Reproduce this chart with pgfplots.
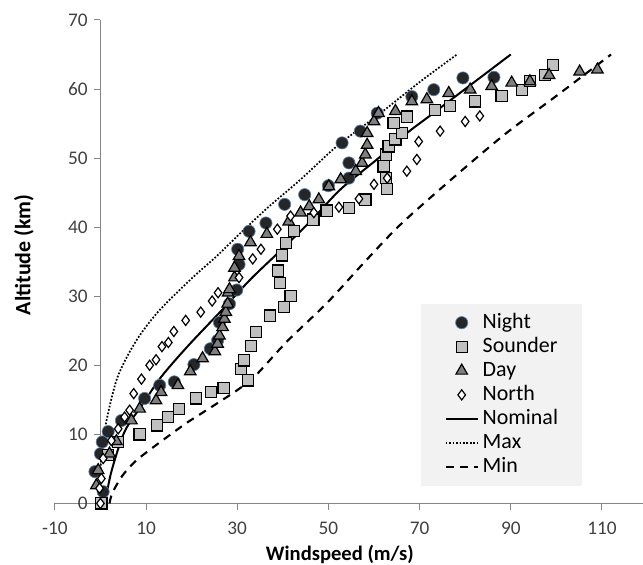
\documentclass[border=0pt]{standalone}
\usepackage{fontspec}
\setmainfont{Carlito}
\usepackage{pgfplots}
\pgfplotsset{compat=1.18}
\definecolor{axisgray}{HTML}{868686}
\definecolor{nightfill}{HTML}{262626}
\definecolor{nightedge}{HTML}{5B82B0}
\definecolor{soundfill}{HTML}{C0C0C0}
\definecolor{dayfill}{HTML}{7F7F7F}
\definecolor{legendbg}{HTML}{F2F2F2}

\begin{document}
\begin{tikzpicture}
\begin{axis}[
    scale only axis,
    width=442.5pt, height=363.75pt,
    xmin=-10, xmax=119, ymin=0, ymax=70,
    axis lines=middle,
    axis line style={axisgray, line width=0.75pt, -},
    xtick={-10,10,...,110},
    ytick={0,10,...,70},
    tick align=outside,
    major tick length=5pt,
    tick style={axisgray, line width=0.75pt},
    hide obscured x ticks=false,
    hide obscured y ticks=false,
    /pgf/number format/assume math mode=true,
    tick label style={font=\fontsize{14.5}{17}\selectfont, text=black!75},
    xticklabel style={yshift=-5.5pt},
    yticklabel style={xshift=-1pt},
    xlabel={Windspeed (m/s)},
    ylabel={Altitude (km)},
    every axis x label/.style={at={(axis cs:52.5,0)}, anchor=base, yshift=-43pt,
        font=\fontsize{15.5}{18}\selectfont\bfseries},
    every axis y label/.style={at={(axis cs:-16.8,36)}, rotate=90, anchor=center,
        font=\fontsize{16.5}{20}\selectfont\bfseries},
    legend image code/.code={\draw[mark repeat=2,mark phase=2,#1]
        plot coordinates {(0pt,0pt) (12pt,0pt) (24pt,0pt)};},
    legend cell align=left,
    legend style={at={(axis cs:70.2,28.9)}, anchor=north west, fill=legendbg, draw=none,
        font=\fontsize{16.5}{19}\selectfont, inner xsep=18pt, inner ysep=6pt,
        row sep=2.1pt, nodes={inner sep=0pt, text height=12pt, text depth=4pt},
        /tikz/every odd column/.append style={column sep=3pt}},
    clip=false,
]
% Night
\addplot[only marks, mark=*, mark size=4.6pt, draw=nightedge, fill=nightfill, line width=0.5pt] coordinates {
    (0.6,1.7) (-1.2,4.6) (0,7.2) (0.4,8.9) (1.7,10.4) (4.6,12) (9.7,15.2) (13,17.1)
    (16.2,17.6) (20.5,20.1) (24.1,22.4) (25.7,23.6) (26.1,26.2) (28.3,28.9) (29.9,30.9)
    (30.4,34.6) (30.1,36.8) (32.6,39.4) (36.3,40.6) (40.4,43.3) (44.8,44.7) (50,46)
    (54.5,47.1) (54.5,49.3) (53,52.2) (57,53.9) (60.7,56.5) (68.3,58.9) (73.1,59.9)
    (79.5,61.6) (86.3,61.7)
};
\addlegendentry{Night}
% Sounder
\addplot[only marks, mark=square*, mark size=4.2pt, draw=black, fill=soundfill, line width=0.9pt] coordinates {
    (0.2,0) (1.7,7) (3.9,8.9) (8.6,10) (12.4,11.3) (14.8,12.5) (17.3,13.7) (21,15.2)
    (24.3,16.1) (27,16.7) (32.4,17.8) (30.8,19.5) (31.5,20.7) (33,22.8) (34.1,24.8)
    (37.2,27.2) (40.2,28.4) (41.7,30) (39.4,31.9) (39,33.7) (39.8,35.9) (40.7,37.7)
    (42.5,39.4) (46.7,41.1) (49.6,42.4) (54.5,42.8) (58.1,44) (62.9,45.5) (62.7,47.1)
    (62.1,48.8) (62.7,50.5) (63.2,51.7) (64.7,52.7) (66.2,53.6) (64.3,55.1) (67.2,56)
    (73.4,57) (76.7,57.5) (82.2,58.2) (88,59) (92.4,59.9) (94.2,61.2) (97.5,62) (99.2,63.5)
};
\addlegendentry{Sounder}
% Day
\addplot[only marks, mark=triangle*, mark size=5pt, draw=black, fill=dayfill, line width=0.9pt] coordinates {
    (-0.9,2.6) (-0.5,4.8) (2,7.2) (3.5,9) (6.8,12) (8.6,13.7) (12.2,14.9) (13.3,16.1)
    (17,17.1) (19.7,19.1) (22.4,21) (25.1,22) (25.7,23.1) (26.1,24.3) (26.8,25.5)
    (27.2,26.7) (27.5,27.7) (27.9,28.9) (28,30.5) (28.3,31) (29.4,32.7) (29.4,34.1)
    (30.4,35.8) (32.9,37.8) (36.5,39) (41.3,40.8) (43.9,42.1) (45.8,43) (47.9,44)
    (50.1,45.9) (52.7,46.9) (56,48.1) (57.4,49.3) (58.1,50.5) (58.5,51.9) (58.5,53.6)
    (60,55.3) (61,56.5) (64.7,56.8) (68.3,58.2) (71.6,58.5) (76.4,59.4) (81.1,59.9)
    (85.8,60.4) (90.2,60.9) (94.2,61.1) (98.4,62) (105.1,62.5) (109,62.8)
};
\addlegendentry{Day}
% North
\addplot[only marks, mark=diamond*, mark size=3.8pt, draw=black, fill=white, line width=0.9pt] coordinates {
    (0,0) (-0.2,2.2) (0.2,3.6) (0.6,6.5) (2.4,9.1) (3.9,10.8) (5.3,12.5) (6.4,13.5)
    (7.3,15.9) (9,18) (10.8,20) (12.2,20.8) (13.5,22.7) (14.9,23.3) (16.1,24.9)
    (18.7,26.5) (22,27.7) (24.5,29.3) (25.8,30.5) (30.4,32.7) (33.4,35.4) (35.2,36.8)
    (38.8,39.7) (41.7,41.6) (46.8,42.1) (52.3,42.9) (56.7,44.1) (60,46.2) (62.9,47.1)
    (67.2,48.1) (69.4,49.8) (69.8,52.4) (74.5,53.9) (80,55.3) (83.2,56.1)
};
\addlegendentry{North}
% Nominal
\addplot[black, line width=1.5pt, smooth, no marks] coordinates {
    (1,0) (2.4,4.6) (5.3,10.4) (9.3,14.4) (13.3,18.3) (19.2,22.8) (26.8,28.1) (33,32.5)
    (39.8,36.8) (46,40.8) (52.7,45.5) (61,50) (67,53.5) (72,56) (78,59) (84,62) (90,65)
};
\addlegendentry{Nominal}
% Max
\addplot[black, line width=1.3pt, dash pattern=on 1.3pt off 1.3pt, smooth, no marks] coordinates {
    (0,5) (0.8,10) (2,14) (3.6,18) (5.8,21.2) (8.8,24.5) (13,28) (19.9,32.5) (25.5,35.8)
    (30.8,39.2) (37,43) (43.9,46.9) (52,51.8) (61.4,56.5) (70,61) (78.2,65)
};
\addlegendentry{Max}
% Min
\addplot[black, line width=1.6pt, dash pattern=on 6pt off 4.8pt, smooth, no marks] coordinates {
    (2,0) (2.6,1.5) (4.8,4) (7.5,6) (10.5,7.6) (15,9.8) (19,11.7) (23.5,13.6) (30,16.4)
    (34,18.5) (41,23.5) (49.8,29.1) (58,35) (66,40.5) (78,47.5) (89,53.6) (100,59) (112,65)
};
\addlegendentry{Min}
\end{axis}
\pgfresetboundingbox
\path ([shift={(-41.25pt,-45.75pt)}]current axis.south west) rectangle ([shift={(0pt,15pt)}]current axis.north east);
\end{tikzpicture}
\end{document}
